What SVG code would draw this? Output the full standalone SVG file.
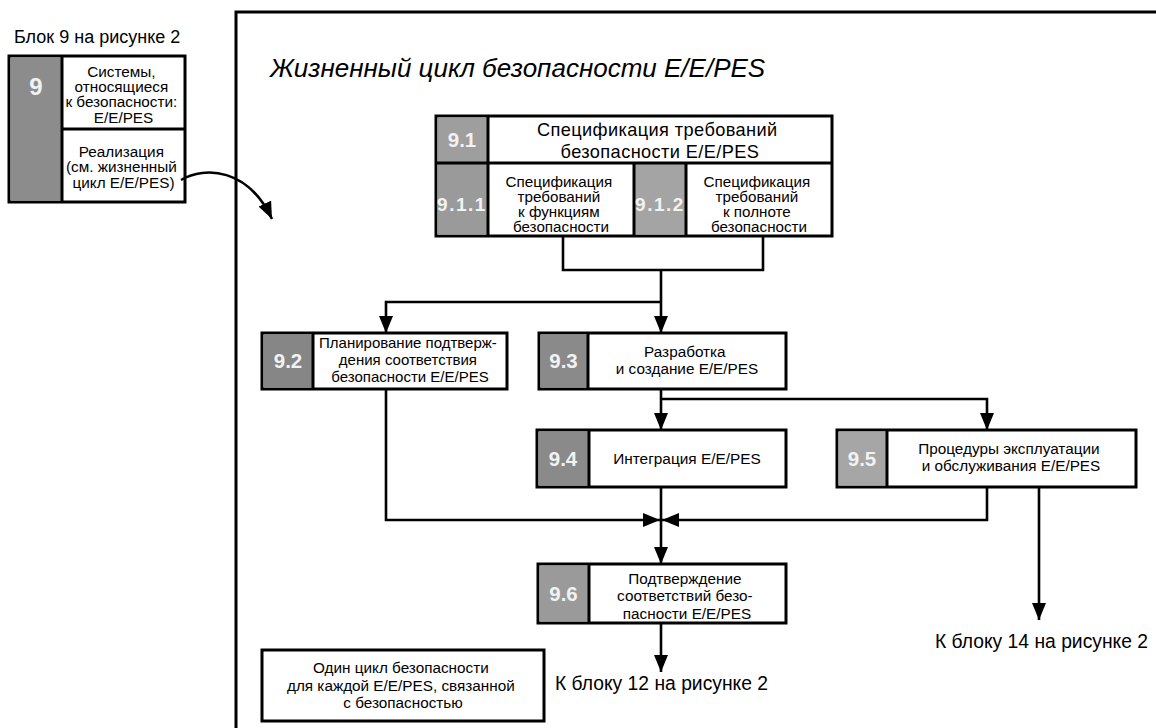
<svg xmlns="http://www.w3.org/2000/svg" width="1156" height="728" viewBox="0 0 1156 728">
  <style>
    .box { fill: #ffffff; stroke: #000000; stroke-width: 3; }
    .cell { fill: none; stroke: #000000; stroke-width: 3; }
    .num { font-family: "Liberation Sans", Arial, sans-serif; font-weight: bold; fill: #f2f2f2; text-anchor: middle; }
    .t { font-family: "Liberation Sans", Arial, sans-serif; fill: #000000; text-anchor: middle; }
    .lbl { font-family: "Liberation Sans", Arial, sans-serif; fill: #000000; }
    .wire { fill: none; stroke: #000000; stroke-width: 2.6; }
  </style>
  <defs>
    <marker id="arrow" markerUnits="userSpaceOnUse" markerWidth="18" markerHeight="14" refX="17" refY="7" orient="auto">
      <path d="M0,0 L17,7 L0,14 Z" fill="#000000"/>
    </marker>
  </defs>

  <rect width="1156" height="728" fill="#ffffff"/>

  <!-- Block 9 from figure 2 -->
  <g id="block9">
    <text x="14" y="43" class="lbl" font-size="18">Блок 9 на рисунке 2</text>
    <rect class="box" x="9" y="56" width="176" height="146"/>
    <rect x="10.5" y="57.5" width="51.5" height="143" fill="#8c8c8c"/>
    <line class="cell" x1="62" y1="56" x2="62" y2="202"/>
    <line class="cell" x1="62" y1="129" x2="185" y2="129"/>
    <text x="36" y="95" class="num" font-size="24">9</text>
    <text class="t" font-size="15.3">
      <tspan x="123.5" y="77">Системы,</tspan>
      <tspan x="123.5" y="92">относящиеся</tspan>
      <tspan x="123.5" y="107">к безопасности:</tspan>
      <tspan x="123.5" y="123">E/E/PES</tspan>
    </text>
    <text class="t" font-size="15.3">
      <tspan x="123.5" y="157">Реализация</tspan>
      <tspan x="123.5" y="172">(см. жизненный</tspan>
      <tspan x="123.5" y="188">цикл E/E/PES)</tspan>
    </text>
  </g>

  <!-- Lifecycle frame -->
  <g id="frame">
    <path d="M236,728 V12 H1156" fill="none" stroke="#000000" stroke-width="3"/>
    <text x="270" y="77" class="lbl" font-style="italic" font-size="26">Жизненный цикл безопасности E/E/PES</text>
  </g>

  <!-- 9.1 Safety requirements specification -->
  <g id="n9_1">
    <rect class="box" x="436" y="116" width="396" height="120"/>
    <rect x="437.5" y="117.5" width="50.5" height="45.5" fill="#9e9e9e"/>
    <rect x="437.5" y="163" width="50.5" height="71.5" fill="#9a9a9a"/>
    <rect x="634" y="163" width="52" height="71.5" fill="#a4a4a4"/>
    <line class="cell" x1="436" y1="163" x2="832" y2="163"/>
    <line class="cell" x1="488" y1="116" x2="488" y2="236"/>
    <line class="cell" x1="634" y1="163" x2="634" y2="236"/>
    <line class="cell" x1="686" y1="163" x2="686" y2="236"/>
    <text x="462" y="147" class="num" font-size="20.5">9.1</text>
    <text class="t" font-size="18.2" letter-spacing="0.4">
      <tspan x="660" y="136">Спецификация требований</tspan>
      <tspan x="660" y="157.5">безопасности E/E/PES</tspan>
    </text>
  </g>
  <g id="n9_1_1">
    <text x="462" y="211" class="num" font-size="19" letter-spacing="1.5">9.1.1</text>
    <text class="t" font-size="15.2">
      <tspan x="561" y="187">Спецификация</tspan>
      <tspan x="561" y="202">требований</tspan>
      <tspan x="561" y="217">к функциям</tspan>
      <tspan x="561" y="232">безопасности</tspan>
    </text>
  </g>
  <g id="n9_1_2">
    <text x="660" y="211" class="num" font-size="19" letter-spacing="1.5">9.1.2</text>
    <text class="t" font-size="15.2">
      <tspan x="759" y="187">Спецификация</tspan>
      <tspan x="759" y="202">требований</tspan>
      <tspan x="759" y="217">к полноте</tspan>
      <tspan x="759" y="232">безопасности</tspan>
    </text>
  </g>

  <!-- 9.2 Validation planning -->
  <g id="n9_2">
    <rect class="box" x="262" y="333" width="245" height="56"/>
    <rect x="263.5" y="334.5" width="49.5" height="53" fill="#868686"/>
    <line class="cell" x1="313" y1="333" x2="313" y2="389"/>
    <text x="288" y="368" class="num" font-size="20.5">9.2</text>
    <text class="t" font-size="15">
      <tspan x="410" y="348">Планирование подтверж-</tspan>
      <tspan x="410" y="365">дения соответствия</tspan>
      <tspan x="410" y="382">безопасности E/E/PES</tspan>
    </text>
  </g>

  <!-- 9.3 Design and development -->
  <g id="n9_3">
    <rect class="box" x="539" y="333" width="247" height="56"/>
    <rect x="540.5" y="334.5" width="47.5" height="53" fill="#8a8a8a"/>
    <line class="cell" x1="588" y1="333" x2="588" y2="389"/>
    <text x="563.5" y="368" class="num" font-size="20.5">9.3</text>
    <text class="t" font-size="15.3">
      <tspan x="687" y="357">Разработка</tspan>
      <tspan x="687" y="374">и создание E/E/PES</tspan>
    </text>
  </g>

  <!-- 9.4 Integration -->
  <g id="n9_4">
    <rect class="box" x="537" y="430" width="249" height="57"/>
    <rect x="538.5" y="431.5" width="50.5" height="54" fill="#8a8a8a"/>
    <line class="cell" x1="589" y1="430" x2="589" y2="487"/>
    <text x="563" y="466" class="num" font-size="20.5">9.4</text>
    <text x="687" y="464" class="t" font-size="15.4">Интеграция E/E/PES</text>
  </g>

  <!-- 9.5 Operation and maintenance procedures -->
  <g id="n9_5">
    <rect class="box" x="837" y="430" width="299" height="57"/>
    <rect x="838.5" y="431.5" width="48.5" height="54" fill="#a6a6a6"/>
    <line class="cell" x1="887" y1="430" x2="887" y2="487"/>
    <text x="862" y="466" class="num" font-size="20.5">9.5</text>
    <text class="t" font-size="15.3">
      <tspan x="1011" y="454">Процедуры эксплуатации</tspan>
      <tspan x="1011" y="471">и обслуживания E/E/PES</tspan>
    </text>
  </g>

  <!-- 9.6 Safety validation -->
  <g id="n9_6">
    <rect class="box" x="538" y="564" width="248" height="59"/>
    <rect x="539.5" y="565.5" width="49.5" height="56" fill="#9a9a9a"/>
    <line class="cell" x1="589" y1="564" x2="589" y2="623"/>
    <text x="563.5" y="601" class="num" font-size="20.5">9.6</text>
    <text class="t" font-size="15.3">
      <tspan x="687" y="584">Подтверждение</tspan>
      <tspan x="687" y="601">соответствий безо-</tspan>
      <tspan x="687" y="618.5">пасности E/E/PES</tspan>
    </text>
  </g>

  <!-- Legend note -->
  <g id="note">
    <rect class="box" x="262" y="650" width="282" height="71"/>
    <text class="t" font-size="15.3">
      <tspan x="403" y="673">Один цикл безопасности</tspan>
      <tspan x="403" y="690.5">для каждой E/E/PES, связанной</tspan>
      <tspan x="403" y="708">с безопасностью</tspan>
    </text>
  </g>

  <!-- Exit labels -->
  <g id="out12">
    <text x="555" y="690" class="lbl" font-size="19.3">К блоку 12 на рисунке 2</text>
  </g>
  <g id="out14">
    <text x="935" y="648" class="lbl" font-size="19.3">К блоку 14 на рисунке 2</text>
  </g>

  <!-- Connectors -->
  <g id="connectors">
    <path class="wire" d="M181,180 C205,166 248,168 272,219" marker-end="url(#arrow)"/>
    <path class="wire" d="M563,236 V270 H763 V236"/>
    <path class="wire" d="M661,270 V333" marker-end="url(#arrow)"/>
    <path class="wire" d="M661,302 H386 V333" marker-end="url(#arrow)"/>
    <path class="wire" d="M661,389 V430" marker-end="url(#arrow)"/>
    <path class="wire" d="M661,399 H987 V430" marker-end="url(#arrow)"/>
    <path class="wire" d="M386,389 V520 H660" marker-end="url(#arrow)"/>
    <path class="wire" d="M987,487 V520 H662" marker-end="url(#arrow)"/>
    <path class="wire" d="M661,487 V564" marker-end="url(#arrow)"/>
    <path class="wire" d="M661,623 V672" marker-end="url(#arrow)"/>
    <path class="wire" d="M1039,487 V620" marker-end="url(#arrow)"/>
  </g>
</svg>
